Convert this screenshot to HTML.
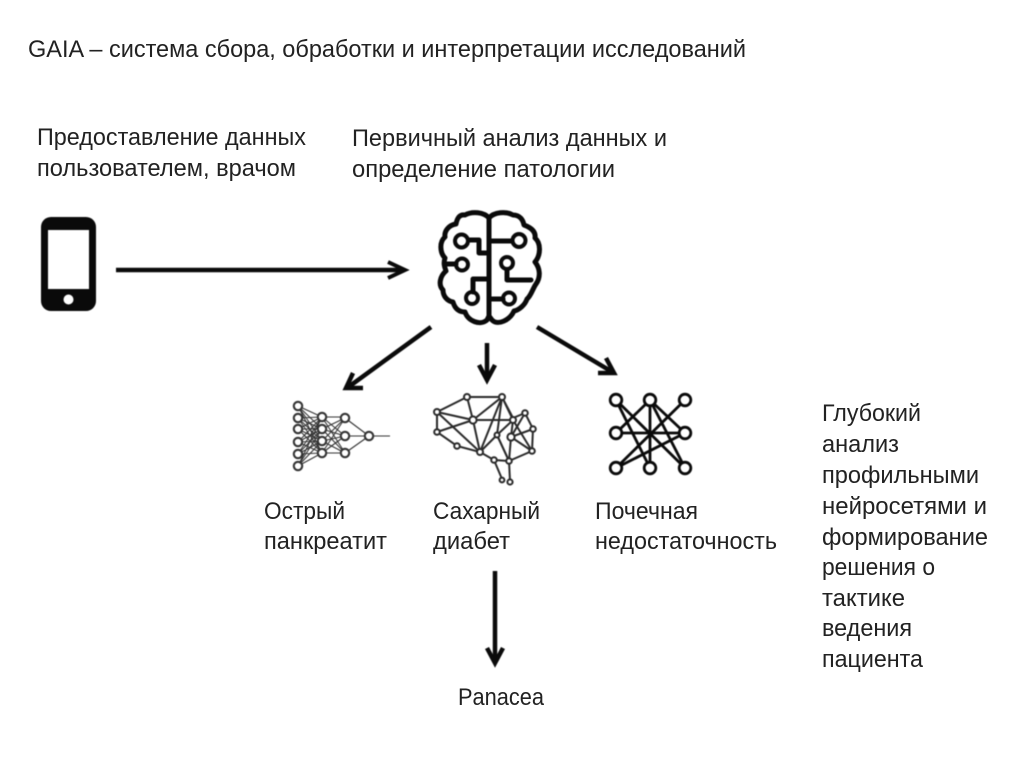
<!DOCTYPE html>
<html><head><meta charset="utf-8"><style>
html,body{margin:0;padding:0;background:#fff}
svg{display:block}
text{font-family:"Liberation Sans","DejaVu Sans",sans-serif;font-size:24px;fill:#222}
.ic{filter:blur(0.45px)}
</style></head><body>
<svg width="1024" height="767" viewBox="0 0 1024 767" xmlns="http://www.w3.org/2000/svg">
<rect width="1024" height="767" fill="#fff"/>
<g>
<text x="28" y="57" textLength="718" lengthAdjust="spacingAndGlyphs">GAIA – система сбора, обработки и интерпретации исследований</text>
<text x="37" y="145" textLength="269" lengthAdjust="spacingAndGlyphs">Предоставление данных</text>
<text x="37" y="176" textLength="259" lengthAdjust="spacingAndGlyphs">пользователем, врачом</text>
<text x="352" y="146" textLength="315" lengthAdjust="spacingAndGlyphs">Первичный анализ данных и</text>
<text x="352" y="177" textLength="263" lengthAdjust="spacingAndGlyphs">определение патологии</text>
<text x="264" y="519" textLength="81" lengthAdjust="spacingAndGlyphs">Острый</text>
<text x="264" y="549" textLength="123" lengthAdjust="spacingAndGlyphs">панкреатит</text>
<text x="433" y="519" textLength="107" lengthAdjust="spacingAndGlyphs">Сахарный</text>
<text x="433" y="549" textLength="77" lengthAdjust="spacingAndGlyphs">диабет</text>
<text x="595" y="519" textLength="103" lengthAdjust="spacingAndGlyphs">Почечная</text>
<text x="595" y="549" textLength="182" lengthAdjust="spacingAndGlyphs">недостаточность</text>
<text x="822" y="421" textLength="99" lengthAdjust="spacingAndGlyphs">Глубокий</text>
<text x="822" y="452" textLength="77" lengthAdjust="spacingAndGlyphs">анализ</text>
<text x="822" y="483" textLength="157" lengthAdjust="spacingAndGlyphs">профильными</text>
<text x="822" y="514" textLength="165" lengthAdjust="spacingAndGlyphs">нейросетями и</text>
<text x="822" y="545" textLength="166" lengthAdjust="spacingAndGlyphs">формирование</text>
<text x="822" y="575" textLength="113" lengthAdjust="spacingAndGlyphs">решения о</text>
<text x="822" y="606" textLength="83" lengthAdjust="spacingAndGlyphs">тактике</text>
<text x="822" y="636" textLength="90" lengthAdjust="spacingAndGlyphs">ведения</text>
<text x="822" y="667" textLength="101" lengthAdjust="spacingAndGlyphs">пациента</text>
<text x="458" y="705" textLength="86" lengthAdjust="spacingAndGlyphs">Panacea</text>
</g>

<g class="ic">
<!-- phone -->
<rect x="41" y="217" width="55" height="94" rx="10" fill="#0a0a0a"/>
<rect x="48" y="230" width="41" height="59" fill="#fff"/>
<circle cx="68.500" cy="299.500" r="5" fill="#fff"/>

<!-- arrows -->
<g fill="none" stroke="#0a0a0a" stroke-width="4.500" stroke-linecap="butt" stroke-linejoin="miter" stroke-miterlimit="6">
<path d="M116 270H403"/><path d="M388 262L405 270L388 278" stroke-width="4"/>
<path d="M431 327L347 388"/><path d="M353 373L346 388L363 388"/>
<path d="M487 343V380"/><path d="M479 365L487 380L495 365"/>
<path d="M537 327L614 373"/><path d="M598 373L614 373L606 358"/>
<path d="M495 571V662"/><path d="M487 648L495 663L503 648"/>
</g>

<!-- brain -->
<g fill="none" stroke="#0a0a0a" stroke-width="5" stroke-linejoin="round" stroke-linecap="round">
<path d="M489 218C484 212 472 211 465 215C459 214 457 219 456 224C449 225 444 231 445 237C439 242 440 253 445 258C443 264 445 268 446 271C440 276 438 285 443 290C443 296 447 301 453 302C455 309 459 312 465 312C468 321 480 326 487 320L489 316V218Z"/>
<path d="M489 218C494 212 506 211 513 215C520 215 523 220 524 225C532 228 536 232 535 238C541 243 541 255 535 262C540 268 541 277 536 284C533 288 531 296 527 299C525 305 519 310 514 311C510 320 498 326 492 320L489 316"/>
<path d="M489 241H511"/><path d="M489 253H479V240H470"/>
<path d="M445 264H456"/><path d="M489 279H473V292"/>
<path d="M489 299H503"/><path d="M507 270V280H531"/>
<circle cx="461.500" cy="241" r="6.500" stroke-width="4"/>
<circle cx="462" cy="264.500" r="6" stroke-width="4"/>
<circle cx="472" cy="298" r="6" stroke-width="4"/>
<circle cx="519" cy="240.500" r="6.500" stroke-width="4"/>
<circle cx="507" cy="263" r="6" stroke-width="4"/>
<circle cx="509" cy="298.500" r="6" stroke-width="4"/>
</g>

<!-- neural net 1 -->
<g stroke="#333" stroke-width="1.100" fill="none">
<path d="M298 406L322 417M298 406L322 429M298 406L322 441M298 406L322 453M298 418L322 417M298 418L322 429M298 418L322 441M298 418L322 453M298 429L322 417M298 429L322 429M298 429L322 441M298 429L322 453M298 442L322 417M298 442L322 429M298 442L322 441M298 442L322 453M298 454L322 417M298 454L322 429M298 454L322 441M298 454L322 453M298 466L322 417M298 466L322 429M298 466L322 441M298 466L322 453"/>
<path d="M322 417H345M322 417L345 436M322 417L345 453M322 429L345 418M322 429L345 436M322 429L345 453M322 441L345 418M322 441L345 436M322 441L345 453M322 453L345 418M322 453L345 436M322 453H345M345 418L369 436M345 436H390M345 453L369 436"/>
</g>
<g fill="#fff" stroke="#333" stroke-width="2.100">
<circle cx="298" cy="406" r="4.200"/><circle cx="298" cy="418" r="4.200"/><circle cx="298" cy="429" r="4.200"/><circle cx="298" cy="442" r="4.200"/><circle cx="298" cy="454" r="4.200"/><circle cx="298" cy="466" r="4.200"/>
<circle cx="322" cy="417" r="4.200"/><circle cx="322" cy="429" r="4.200"/><circle cx="322" cy="441" r="4.200"/><circle cx="322" cy="453" r="4.200"/>
<circle cx="345" cy="418" r="4.200"/><circle cx="345" cy="436" r="4.200"/><circle cx="345" cy="453" r="4.200"/>
<circle cx="369" cy="436" r="4.200"/>
</g>

<!-- brain network 2 -->
<g stroke="#2a2a2a" stroke-width="2" fill="none" stroke-linecap="round">
<path d="M467 397H502L513 418L525 413L533 429L532 451L509 461L497 435"/>
<path d="M467 397L437 412V432L457 446L480 452L494 460L509 461"/>
<path d="M437 412L473 420L467 397M473 420L502 397L513 420M473 420H513M437 432L473 420M437 412L480 452L473 420M480 452L502 397M502 397L497 435M513 420L497 435L509 461M513 420L511 437L533 429M511 437L532 451M511 437L509 461M525 413L511 437M513 420L532 451M497 435L480 452M494 460L502 479M509 461L510 481"/>
</g>
<g fill="#fff" stroke="#2a2a2a" stroke-width="2">
<circle cx="467" cy="397" r="3"/><circle cx="502" cy="397" r="3"/><circle cx="437" cy="412" r="3"/><circle cx="437" cy="432" r="2.800"/><circle cx="473" cy="420" r="3.600"/><circle cx="513" cy="420" r="3"/><circle cx="525" cy="413" r="2.800"/><circle cx="533" cy="429" r="2.800"/><circle cx="497" cy="435" r="2.500"/><circle cx="511" cy="437" r="3.600"/><circle cx="457" cy="446" r="2.800"/><circle cx="480" cy="452" r="3"/><circle cx="532" cy="451" r="2.800"/><circle cx="494" cy="460" r="2.800"/><circle cx="509" cy="461" r="2.800"/><circle cx="502" cy="480" r="2.400"/><circle cx="510" cy="482" r="2.600"/>
</g>

<!-- network 3 -->
<g stroke="#0a0a0a" stroke-width="2.800" fill="none">
<path d="M616 400L685 468M616 400L650 468M650 400L616 433M650 400V468M650 400L685 433M650 400L685 468M685 400L616 468M616 433H685M616 468L685 433"/>
</g>
<g fill="#fff" stroke="#0a0a0a" stroke-width="2.800">
<circle cx="616" cy="400" r="5.800"/><circle cx="650" cy="400" r="5.800"/><circle cx="685" cy="400" r="5.800"/>
<circle cx="616" cy="433" r="5.800"/><circle cx="685" cy="433" r="5.800"/>
<circle cx="616" cy="468" r="5.800"/><circle cx="650" cy="468" r="5.800"/><circle cx="685" cy="468" r="5.800"/>
</g>
</g>
</svg>
</body></html>
